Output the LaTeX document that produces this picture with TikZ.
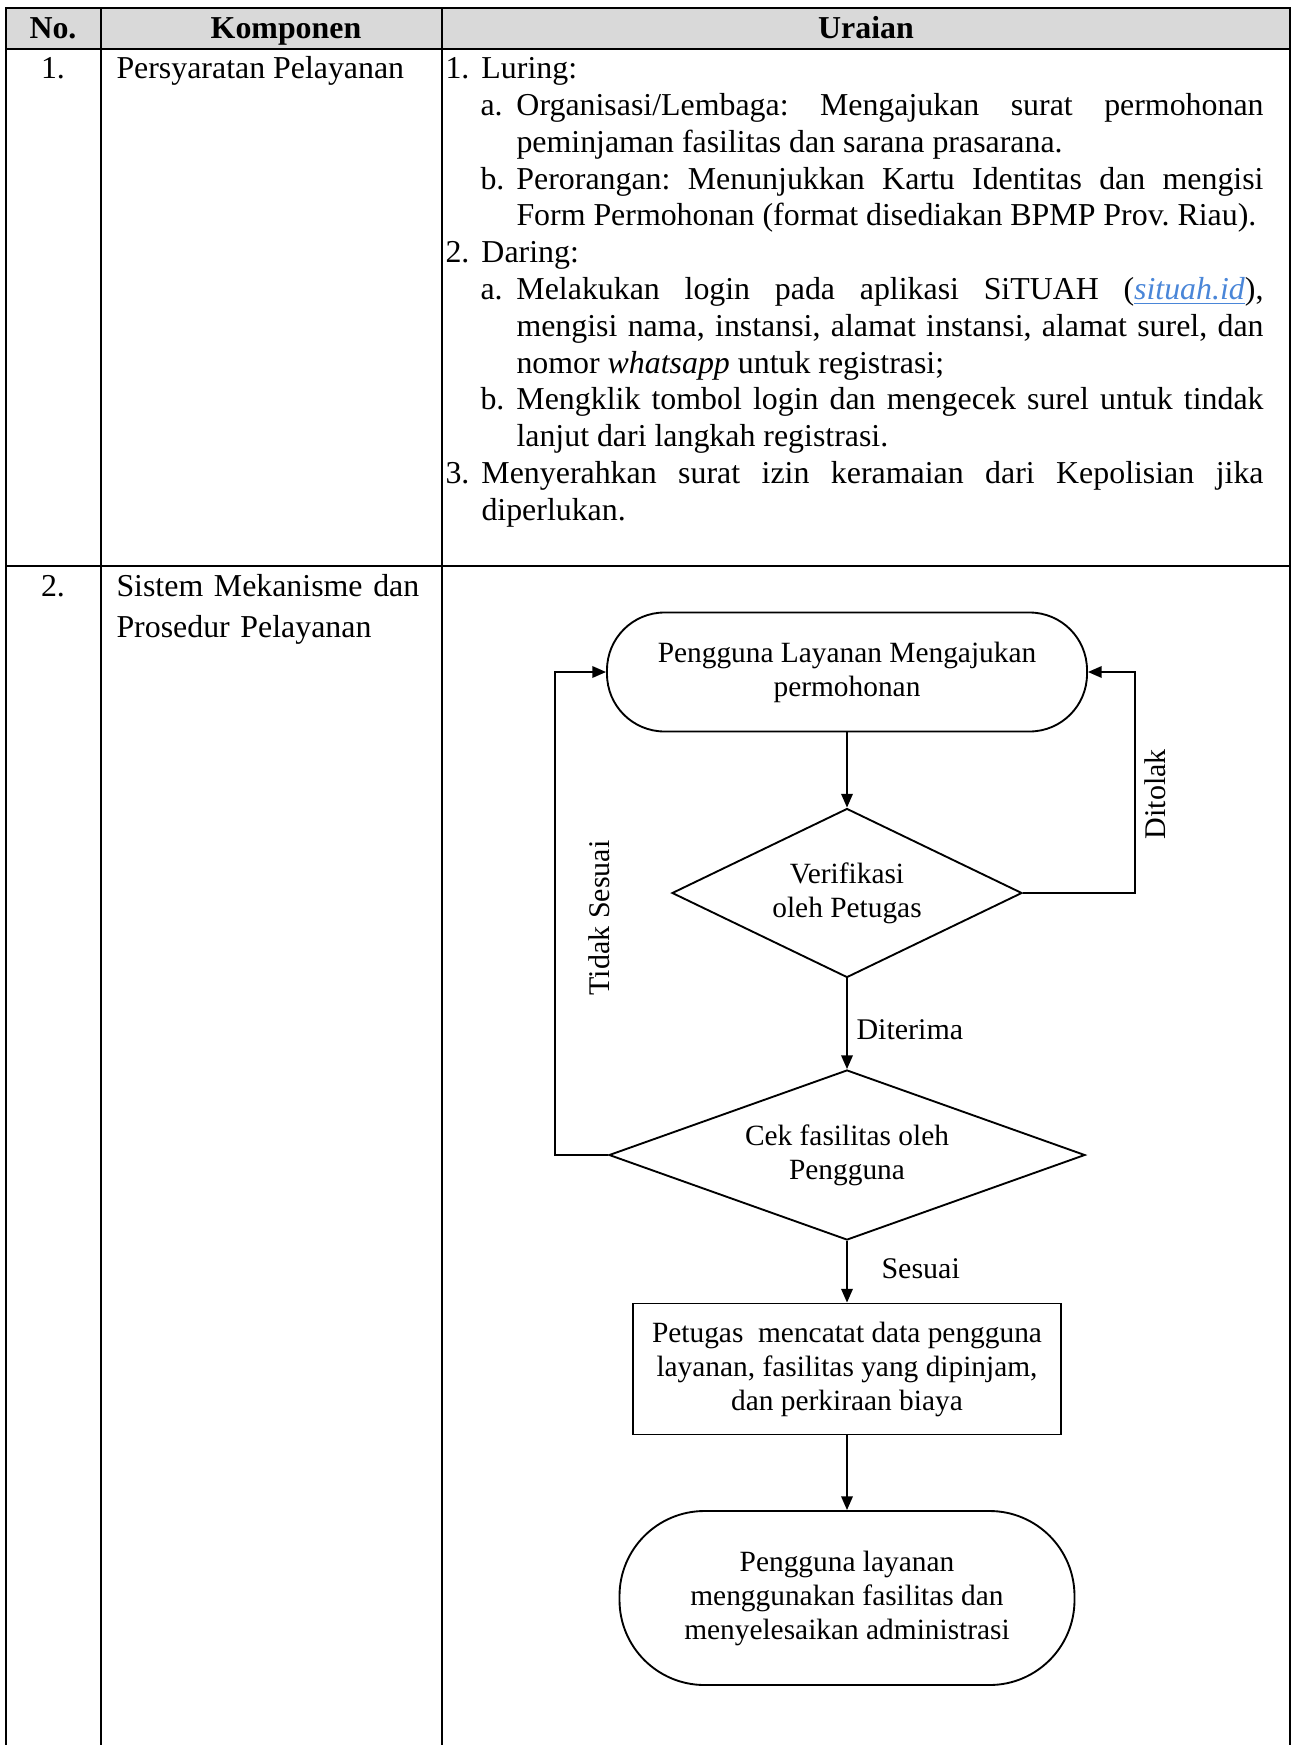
\documentclass[tikz,border=0pt]{standalone}
\usepackage{fontspec}
\setmainfont{Liberation Serif}
\usetikzlibrary{shapes.geometric,arrows.meta,positioning}
\definecolor{hdrgray}{HTML}{D9D9D9}
\definecolor{linkblue}{HTML}{4A86D8}

\newcommand{\urnum}[2]{{\leftskip=14.4pt\noindent\llap{\makebox[14.4pt][l]{#1}}#2\par}}
\newcommand{\ursub}[2]{{\leftskip=28.4pt\noindent\llap{\makebox[14.4pt][l]{#1}}#2\par}}
\newcommand{\sitelink}[1]{\textcolor{linkblue}{\underline{\textit{#1}}}}

\tikzset{
  tbl/.style={line width=1pt},
  cell/.style={font=\fontsize{12.75pt}{14.7pt}\selectfont, inner sep=0pt},
  hdr/.style={font=\fontsize{12.75pt}{14.7pt}\selectfont\bfseries, inner sep=0pt, anchor=base},
  flow/.style={draw, line width=0.75pt, align=center, inner sep=0pt, font=\fontsize{11.75pt}{13.6pt}\selectfont},
  term/.style={flow, rectangle, rounded corners=#1},
  dec/.style={flow, diamond},
  proc/.style={flow, rectangle},
  arr/.style={line width=0.75pt, -{Triangle[length=5.5pt,width=4.6pt]}},
  lbl/.style={font=\fontsize{12pt}{13.6pt}\selectfont, inner sep=0pt}
}

\begin{document}
\begin{tikzpicture}[x=0.4pt,y=-0.4pt]
		\useasboundingbox (0,0) rectangle (1292,1745);

		\fill[hdrgray] (6,8) rectangle (1290,49);
		\draw[tbl] (6,1745) -- (6,8) -- (1290,8) -- (1290,1745);
		\draw[tbl] (6,49) -- (1290,49);
		\draw[tbl] (6,566) -- (1290,566);
		\draw[tbl] (101,8) -- (101,1745);
		\draw[tbl] (442,8) -- (442,1745);

		\node[hdr] (hno) at (53,39) {No.};
		\node[hdr] (hkomp) at (286,39) {Komponen};
		\node[hdr] (hurai) at (866,39) {Uraian};

		\node[cell, anchor=base] (no1) at (53,79) {1.};
		\node[cell, anchor=base west] (komp1) at (116,79) {Persyaratan Pelayanan};
		\node[cell, anchor=base west, text width=327.2pt, align=justify] (urai1) at (445,79) {\rightskip=0pt\frenchspacing\tolerance=10000\hyphenpenalty=10000\exhyphenpenalty=10000
			\urnum{1.}{Luring:}
			\ursub{a.}{Organisasi/Lembaga: Mengajukan surat permohonan\linebreak peminjaman fasilitas dan sarana prasarana.}
			\ursub{b.}{Perorangan: Menunjukkan Kartu Identitas dan mengisi\linebreak Form Permohonan (format disediakan BPMP Prov. Riau).}
			\urnum{2.}{Daring:}
			\ursub{a.}{Melakukan login pada aplikasi SiTUAH (\sitelink{situah.id}),\linebreak mengisi nama, instansi, alamat instansi, alamat surel, dan\linebreak nomor \textit{whatsapp} untuk registrasi;}
			\ursub{b.}{Mengklik tombol login dan mengecek surel untuk tindak\linebreak lanjut dari langkah registrasi.}
			\urnum{3.}{Menyerahkan surat izin keramaian dari Kepolisian jika\linebreak diperlukan.}};

		\node[cell, anchor=base] (no2) at (53,596) {2.};
		\node[cell, anchor=base west, text width=140pt, align=left, font=\fontsize{12.75pt}{16.4pt}\selectfont] (komp2) at (116,596) {Sistem Mekanisme dan\\Prosedur Pelayanan};

		\node[term=23pt, minimum width=192pt, minimum height=47.6pt] (ajukan) at (847,672) {Pengguna Layanan Mengajukan\\permohonan};
		\node[dec, aspect=2.07, minimum width=140pt, minimum height=67.6pt] (verif) at (847,893) {Verifikasi\\oleh Petugas};
		\node[dec, aspect=2.8, minimum width=190.4pt, minimum height=68pt] (cek) at (847,1155) {Cek fasilitas oleh\\Pengguna};
		\node[proc, minimum width=171.2pt, minimum height=52.4pt] (catat) at (847,1369) {Petugas\ \ mencatat data pengguna\\layanan, fasilitas yang dipinjam,\\dan perkiraan biaya};
		\node[term=34pt, minimum width=182pt, minimum height=69.6pt] (selesai) at (847,1598) {Pengguna layanan\\menggunakan fasilitas dan\\menyelesaikan administrasi};

		\draw[arr] (ajukan) -- (verif);
		\draw[arr] (verif) -- (cek);
		\draw[arr] (cek) -- (catat);
		\draw[arr] (catat) -- (selesai);
		\draw[arr] (verif.east) -- ++(112,0) |- (ajukan.east);
		\draw[arr] (cek.west) -- ++(-53,0) |- (ajukan.west);

		\node[lbl, anchor=west] (diterima) at (856,1030) {Diterima};
		\node[lbl, anchor=west] (sesuai) at (881,1269) {Sesuai};
		\node[lbl, rotate=90] (ditolak) at (1155,794) {Ditolak};
		\node[lbl, rotate=90] (tdksesuai) at (599,918) {Tidak Sesuai};

	\end{tikzpicture}
\end{document}
